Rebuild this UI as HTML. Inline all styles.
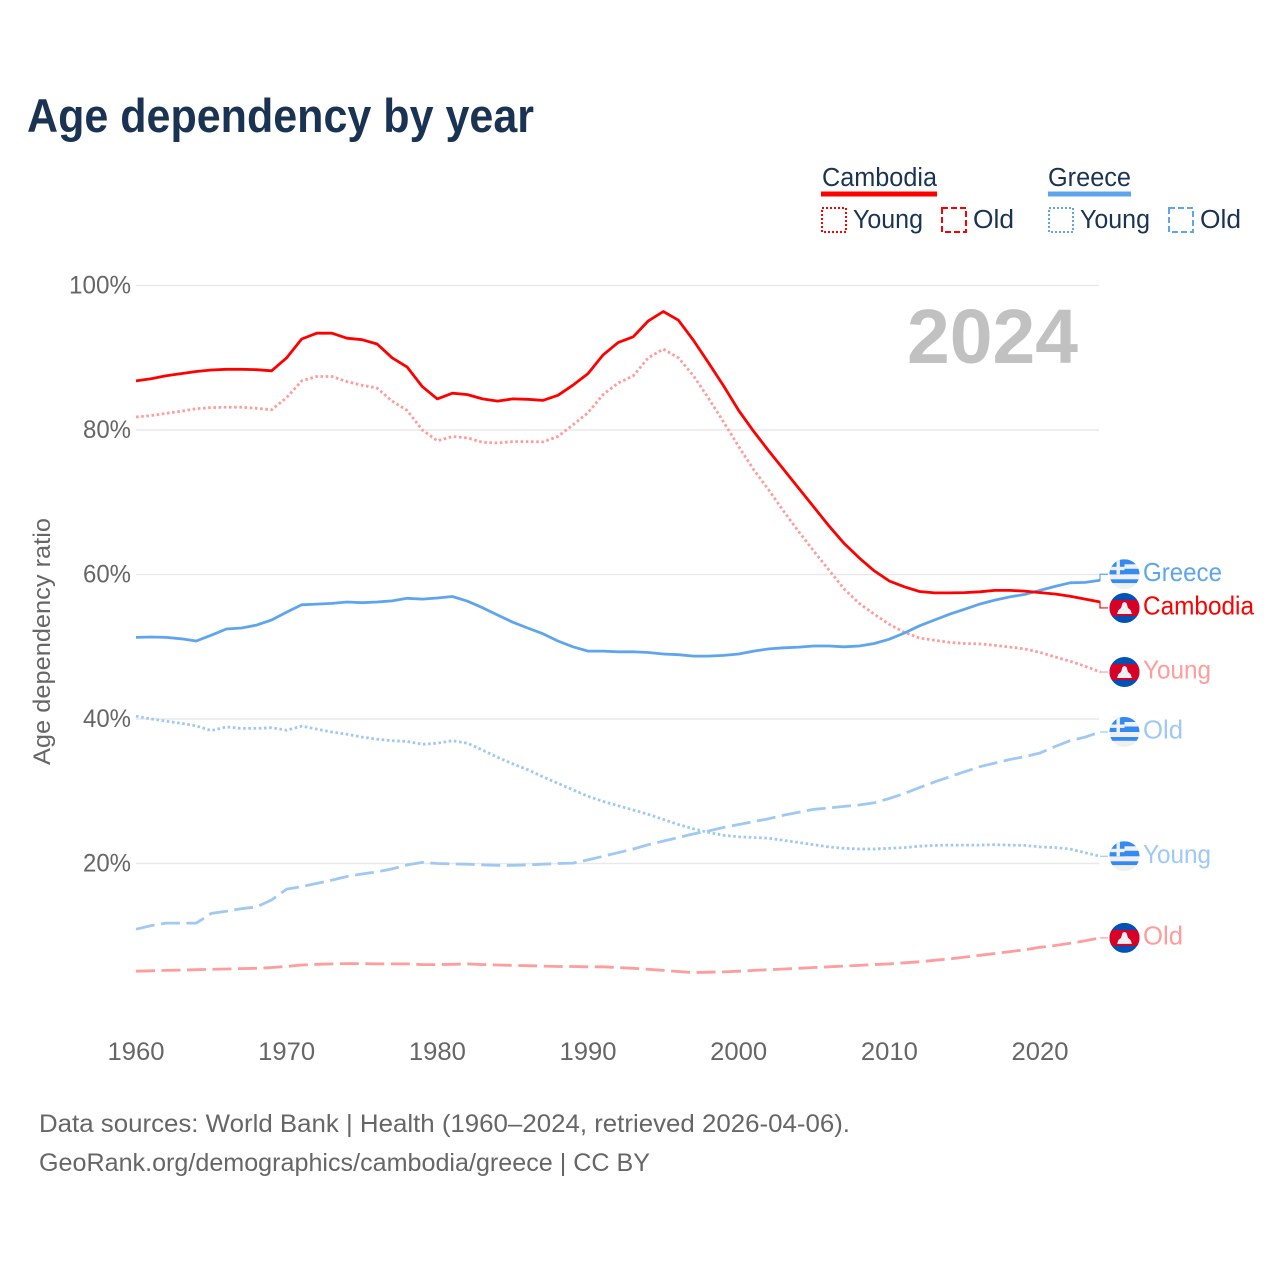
<!DOCTYPE html>
<html lang="en">
<head>
<meta charset="utf-8">
<title>Age dependency by year</title>
<style>
html,body{margin:0;padding:0;background:#fff;}
svg{display:block;font-family:"Liberation Sans",sans-serif;}
</style>
</head>
<body>
<svg id="chart" xmlns="http://www.w3.org/2000/svg" width="1280" height="1280" viewBox="0 0 1280 1280">
  <rect width="1280" height="1280" fill="#ffffff"/>
  <text x="27" y="132" font-size="47" font-weight="bold" fill="#1a3353" textLength="507" lengthAdjust="spacingAndGlyphs">Age dependency by year</text>

  <g font-size="25.5" fill="#1a3353">
    <text x="822" y="186" textLength="115" lengthAdjust="spacingAndGlyphs">Cambodia</text>
    <rect x="821" y="191.5" width="116" height="5" fill="#ff0000"/>
    <text x="1048" y="186" textLength="83" lengthAdjust="spacingAndGlyphs">Greece</text>
    <rect x="1048" y="191.5" width="83" height="5" fill="#5fa5ee"/>

    <rect x="822" y="208" width="24" height="24" fill="none" stroke="#ff0000" stroke-width="2" stroke-dasharray="2 2"/>
    <text x="853" y="228" textLength="70" lengthAdjust="spacingAndGlyphs">Young</text>
    <rect x="942" y="208" width="24" height="24" fill="none" stroke="#ff0000" stroke-width="2" stroke-dasharray="6 3"/>
    <text x="973" y="228" textLength="41" lengthAdjust="spacingAndGlyphs">Old</text>

    <rect x="1049" y="208" width="24" height="24" fill="none" stroke="#5fa5ee" stroke-width="2" stroke-dasharray="2 2"/>
    <text x="1080" y="228" textLength="70" lengthAdjust="spacingAndGlyphs">Young</text>
    <rect x="1169" y="208" width="24" height="24" fill="none" stroke="#5fa5ee" stroke-width="2" stroke-dasharray="6 3"/>
    <text x="1200" y="228" textLength="41" lengthAdjust="spacingAndGlyphs">Old</text>
  </g>

  <g id="grid"></g>
  <g id="yticks"></g>
  <g id="xticks"></g>

  <text transform="translate(50 765) rotate(-90)" font-size="24" fill="#666666" textLength="247" lengthAdjust="spacingAndGlyphs">Age dependency ratio</text>

  <text x="907" y="363" font-size="77" font-weight="bold" fill="#c1c1c1" textLength="171" lengthAdjust="spacingAndGlyphs">2024</text>

  <g id="series"></g>
  <g id="endlabels"></g>

  <text x="39" y="1132" font-size="25" fill="#666666" textLength="811" lengthAdjust="spacingAndGlyphs">Data sources: World Bank | Health (1960–2024, retrieved 2026-04-06).</text>
  <text x="39" y="1171" font-size="25" fill="#666666" textLength="611" lengthAdjust="spacingAndGlyphs">GeoRank.org/demographics/cambodia/greece | CC BY</text>
</svg>

<script>
const firstYear = 1960;
const yTickValues = [20, 40, 60, 80, 100];
const yTickLabels = ["20%", "40%", "60%", "80%", "100%"];
const xTickValues = [1960, 1970, 1980, 1990, 2000, 2010, 2020];
const xTickLabels = ["1960", "1970", "1980", "1990", "2000", "2010", "2020"];

const cambodiaTotal = [
  86.8, 87.1, 87.5, 87.8, 88.1, 88.3, 88.4, 88.4, 88.35, 88.2,
  90.0, 92.6, 93.4, 93.4, 92.7, 92.5, 91.9, 90.0, 88.7, 86.0,
  84.3, 85.1, 84.9, 84.3, 84.0, 84.3, 84.25, 84.1, 84.8, 86.2,
  87.8, 90.4, 92.1, 92.9, 95.1, 96.4, 95.2, 92.4, 89.3, 86.1,
  82.7, 79.8, 77.1, 74.5, 71.9, 69.3, 66.7, 64.3, 62.3, 60.5,
  59.1, 58.3, 57.65, 57.45, 57.45, 57.5, 57.6, 57.8, 57.8, 57.7,
  57.5, 57.3, 57.0, 56.6, 56.2
];
const cambodiaYoung = [
  81.8, 82.0, 82.3, 82.6, 82.95, 83.1, 83.15, 83.15, 83.0, 82.8,
  84.5, 86.8, 87.4, 87.4, 86.7, 86.2, 85.8, 84.0, 82.7, 80.0,
  78.5, 79.1, 78.9, 78.3, 78.2, 78.4, 78.4, 78.35, 79.1, 80.7,
  82.4, 84.9, 86.5, 87.5, 90.0, 91.2, 90.0, 87.5, 84.4, 81.1,
  77.7, 74.5, 71.7, 68.7, 65.9, 63.2, 60.6, 58.0, 56.0, 54.5,
  53.1, 52.0, 51.2, 50.9, 50.6, 50.45, 50.4, 50.2, 49.95, 49.7,
  49.2, 48.6, 48.0, 47.3, 46.5
];
const cambodiaOld = [
  5.1, 5.15, 5.2, 5.25, 5.3, 5.35, 5.4, 5.45, 5.5, 5.6,
  5.75, 5.95, 6.05, 6.1, 6.15, 6.15, 6.1, 6.1, 6.1, 6.0,
  6.0, 6.05, 6.1, 6.0, 5.95, 5.9, 5.85, 5.8, 5.75, 5.75,
  5.7, 5.7, 5.6, 5.5, 5.35, 5.2, 5.05, 4.9, 4.95, 5.0,
  5.1, 5.2, 5.3, 5.4, 5.5, 5.6, 5.7, 5.8, 5.9, 6.0,
  6.1, 6.25, 6.4, 6.6, 6.8, 7.05, 7.3, 7.55, 7.8, 8.05,
  8.4, 8.65, 8.95, 9.3, 9.7
];
const greeceTotal = [
  51.3, 51.35, 51.3, 51.1, 50.8, 51.6, 52.45, 52.6, 53.0, 53.7,
  54.8, 55.8, 55.9, 56.0, 56.2, 56.1, 56.2, 56.35, 56.7, 56.6,
  56.75, 56.95, 56.3, 55.4, 54.4, 53.4, 52.6, 51.8, 50.8, 50.0,
  49.4, 49.4, 49.3, 49.3, 49.2, 49.0, 48.9, 48.7, 48.7, 48.8,
  49.0, 49.4, 49.7, 49.85, 49.95, 50.1, 50.1, 50.0, 50.1, 50.45,
  51.05, 51.9, 52.9, 53.7, 54.5, 55.2, 55.9, 56.45, 56.9, 57.25,
  57.8, 58.35, 58.85, 58.9, 59.2
];
const greeceYoung = [
  40.4, 40.0, 39.7, 39.4, 39.05, 38.4, 38.9, 38.7, 38.7, 38.8,
  38.45, 39.0, 38.6, 38.2, 37.9, 37.5, 37.2, 37.0, 36.9, 36.5,
  36.65, 37.0, 36.65, 35.7, 34.7, 33.8, 33.0, 32.0, 31.1, 30.2,
  29.3, 28.6, 28.0, 27.4, 26.8, 26.1, 25.4, 24.8, 24.3, 23.9,
  23.7, 23.6, 23.5, 23.2, 22.9, 22.6, 22.3, 22.1, 22.0, 22.0,
  22.1, 22.2, 22.4, 22.5, 22.55, 22.55, 22.55, 22.6, 22.55, 22.5,
  22.3, 22.2, 22.0, 21.5, 21.0
];
const greeceOld = [
  10.9, 11.4, 11.75, 11.75, 11.75, 13.1, 13.4, 13.75, 14.0, 14.95,
  16.45, 16.8, 17.25, 17.7, 18.2, 18.55, 18.85, 19.25, 19.8, 20.15,
  20.0, 19.95, 19.9, 19.8, 19.75, 19.75, 19.8, 19.9, 20.0, 20.05,
  20.5, 21.0, 21.5, 22.0, 22.6, 23.1, 23.6, 24.1, 24.5, 25.0,
  25.4, 25.8, 26.2, 26.7, 27.1, 27.5, 27.7, 27.9, 28.1, 28.4,
  29.0, 29.7, 30.5, 31.3, 32.0, 32.7, 33.4, 33.9, 34.4, 34.8,
  35.3, 36.2, 37.0, 37.5, 38.2
];

const SVGNS = "http://www.w3.org/2000/svg";
const xScale = function (year) { return 136 + (year - 1960) * (1040 - 136) / 60; };
const yScale = function (v) { return 1008 - v * 7.225; };

function make(tag, attrs, parent) {
  const el = document.createElementNS(SVGNS, tag);
  for (const k in attrs) el.setAttribute(k, attrs[k]);
  parent.appendChild(el);
  return el;
}

const gridG = document.getElementById("grid");
const yG = document.getElementById("yticks");
const xG = document.getElementById("xticks");
const seriesG = document.getElementById("series");
const labelsG = document.getElementById("endlabels");

yTickValues.forEach(function (v, i) {
  const line = make("line", { x1: 136, x2: 1099, y1: yScale(v), y2: yScale(v), stroke: "#e9e9e9", "stroke-width": 1.5 }, gridG);
  
  
  const t = make("text", { x: 131, y: yScale(v) + 8, "text-anchor": "end", "font-size": 25, fill: "#666666",
    textLength: yTickLabels[i].length === 4 ? 62 : 48, lengthAdjust: "spacingAndGlyphs" }, yG);
  t.textContent = yTickLabels[i];
  
  
});

xTickValues.forEach(function (yr, i) {
  const t = make("text", { x: xScale(yr), y: 1060, "text-anchor": "middle", "font-size": 25, fill: "#666666",
    textLength: 57, lengthAdjust: "spacingAndGlyphs" }, xG);
  t.textContent = xTickLabels[i];
  
  
});

function drawLine(values, color, dash, seriesName) {
  const pts = values.map(function (v, i) {
    return xScale(firstYear + i).toFixed(1) + "," + yScale(v).toFixed(1);
  }).join(" ");
  const attrs = { points: pts, fill: "none", stroke: color, "stroke-width": 2.8, "stroke-linejoin": "round" };
  if (dash) attrs["stroke-dasharray"] = dash;
  const pl = make("polyline", attrs, seriesG);
  
  
}

const DOT = "2.6 2.6";
const DASH = "19 6.5";
const RED = "#ff0000", RED_LIGHT = "#ff9c9c", BLUE = "#5fa5ee", BLUE_LIGHT = "#9fc9f3";

drawLine(cambodiaOld, RED_LIGHT, DASH, "cambodia-old-line");
drawLine(greeceOld, BLUE_LIGHT, DASH, "greece-old-line");
drawLine(greeceYoung, BLUE_LIGHT, DOT, "greece-young-line");
drawLine(cambodiaYoung, RED_LIGHT, DOT, "cambodia-young-line");
drawLine(greeceTotal, BLUE, null, "greece-total-line");
drawLine(cambodiaTotal, RED, null, "cambodia-total-line");

let clipCount = 0;
function drawFlag(country, cy, parent) {
  const cx = 1124.5, r = 15;
  const id = "flagclip" + (clipCount++);
  const cp = make("clipPath", { id: id }, parent);
  make("circle", { cx: cx, cy: cy, r: r }, cp);
  const g = make("g", { "clip-path": "url(#" + id + ")" }, parent);
  
  
  const x0 = cx - r;
  if (country === "cambodia") {
    make("rect", { x: x0, y: cy - r, width: 30, height: 30, fill: "#0052b4" }, g);
    make("rect", { x: x0, y: cy - 8, width: 30, height: 16, fill: "#d80027" }, g);
    make("polygon", { points: [cx - 7.5, cy + 6, cx - 6, cy + 2, cx - 3.5, cy, cx - 2, cy - 5, cx, cy - 6, cx + 2, cy - 5, cx + 3.5, cy, cx + 6, cy + 2, cx + 7.5, cy + 6].join(","), fill: "#f0f0f0" }, g);
  } else {
    make("rect", { x: x0, y: cy - r, width: 30, height: 30, fill: "#f0f0f0" }, g);
    make("rect", { x: x0, y: cy - 15, width: 30, height: 5, fill: "#338af3" }, g);
    make("rect", { x: x0, y: cy - 5.5, width: 30, height: 5.5, fill: "#338af3" }, g);
    make("rect", { x: x0, y: cy + 5, width: 30, height: 3.8, fill: "#338af3" }, g);
    make("rect", { x: x0, y: cy - 15, width: 15, height: 15, fill: "#338af3" }, g);
    make("rect", { x: cx - 8, y: cy - 15, width: 3.4, height: 15, fill: "#f0f0f0" }, g);
    make("rect", { x: x0, y: cy - 7.5, width: 15, height: 3.4, fill: "#f0f0f0" }, g);
  }
}

function drawEndLabel(values, text, country, color, dodge, textWidth, slug) {
  const endY = yScale(values[values.length - 1]);
  const labelY = endY + dodge;
  const conn = make("polyline", {
    points: "1100," + endY + " 1100," + labelY + " 1108," + labelY,
    fill: "none", stroke: color, "stroke-width": 1.2
  }, labelsG);
  
  
  drawFlag(country, labelY, labelsG);
  const t = make("text", { x: 1143, y: labelY + 6.5, "font-size": 26, fill: color,
    textLength: textWidth, lengthAdjust: "spacingAndGlyphs" }, labelsG);
  t.textContent = text;
  
  
}

drawEndLabel(greeceTotal, "Greece", "greece", BLUE, -6, 79, "greece-total");
drawEndLabel(cambodiaTotal, "Cambodia", "cambodia", RED, 6, 111, "cambodia-total");
drawEndLabel(cambodiaYoung, "Young", "cambodia", RED_LIGHT, 0, 68, "cambodia-young");
drawEndLabel(greeceOld, "Old", "greece", BLUE_LIGHT, 0, 40, "greece-old");
drawEndLabel(greeceYoung, "Young", "greece", BLUE_LIGHT, 0, 68, "greece-young");
drawEndLabel(cambodiaOld, "Old", "cambodia", RED_LIGHT, 0, 40, "cambodia-old");
</script>
</body>
</html>
